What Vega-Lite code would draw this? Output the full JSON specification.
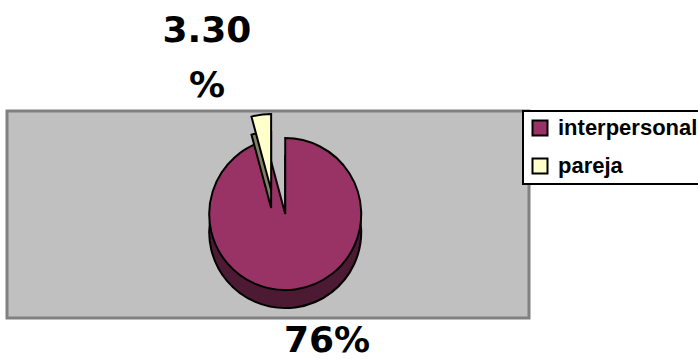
{
  "$schema": "https://vega.github.io/schema/vega-lite/v6.json",
  "width": 522,
  "height": 207,
  "autosize": {"type": "none"},
  "padding": {"left": 7, "top": 111, "right": 169, "bottom": 44},
  "background": "white",
  "config": {
    "view": {"fill": "#C0C0C0", "stroke": "#808080", "strokeWidth": 3},
    "legend": {"strokeWidth": 2}
  },
  "data": {"values": [
    {"tipo": "interpersonal", "valor": 76, "etiqueta": "76%"},
    {"tipo": "pareja", "valor": 3.3, "etiqueta": "3.30 %"}
  ]},
  "transform": [
    {"stack": "valor", "groupby": [], "sort": [{"field": "tipo", "order": "ascending"}], "offset": "normalize", "as": ["v0", "v1"]}
  ],
  "layer": [
    {
      "transform": [{"filter": "datum.tipo === 'interpersonal'"}],
      "mark": {"type": "arc", "radius": 76, "fill": "#4D1A33", "stroke": "black", "strokeWidth": 2},
      "encoding": {
        "theta": {"field": "v0", "type": "quantitative", "scale": {"domain": [0, 1]}},
        "theta2": {"field": "v1"},
        "x": {"datum": 0.533, "type": "quantitative", "scale": {"domain": [0, 1]}, "axis": null},
        "y": {"datum": 0.415, "type": "quantitative", "scale": {"domain": [0, 1]}, "axis": null}
      }
    },
    {
      "transform": [{"filter": "datum.tipo === 'interpersonal'"}],
      "mark": {"type": "arc", "radius": 76, "stroke": "black", "strokeWidth": 2, "opacity": 1},
      "encoding": {
        "theta": {"field": "v0", "type": "quantitative", "scale": {"domain": [0, 1]}},
        "theta2": {"field": "v1"},
        "x": {"datum": 0.533, "type": "quantitative", "scale": {"domain": [0, 1]}, "axis": null},
        "y": {"datum": 0.502, "type": "quantitative", "scale": {"domain": [0, 1]}, "axis": null},
        "color": {
          "field": "tipo", "type": "nominal",
          "scale": {"domain": ["interpersonal", "pareja"], "range": ["#993366", "#FFFFCC"]},
          "legend": {
            "title": null, "orient": "none", "legendX": 516, "legendY": 0, "direction": "vertical",
            "symbolType": "square", "symbolSize": 225, "symbolStrokeColor": "black", "symbolStrokeWidth": 2, "symbolOpacity": 1,
            "labelFont": "Liberation Sans, Arial, sans-serif", "labelFontSize": 22, "labelFontWeight": 700,
            "labelColor": "black", "labelOffset": 7, "labelLimit": 300, "rowPadding": 14, "padding": 6,
            "strokeColor": "black", "fillColor": "white"
          }
        }
      }
    },
    {
      "transform": [{"filter": "datum.tipo === 'pareja'"}],
      "mark": {"type": "arc", "radius": 76, "fill": "#808066", "stroke": "black", "strokeWidth": 2},
      "encoding": {
        "theta": {"field": "v0", "type": "quantitative", "scale": {"domain": [0, 1]}},
        "theta2": {"field": "v1"},
        "x": {"datum": 0.506, "type": "quantitative", "scale": {"domain": [0, 1]}, "axis": null},
        "y": {"datum": 0.531, "type": "quantitative", "scale": {"domain": [0, 1]}, "axis": null}
      }
    },
    {
      "transform": [{"filter": "datum.tipo === 'pareja'"}],
      "mark": {"type": "arc", "radius": 76, "stroke": "black", "strokeWidth": 2, "opacity": 1},
      "encoding": {
        "theta": {"field": "v0", "type": "quantitative", "scale": {"domain": [0, 1]}},
        "theta2": {"field": "v1"},
        "x": {"datum": 0.506, "type": "quantitative", "scale": {"domain": [0, 1]}, "axis": null},
        "y": {"datum": 0.618, "type": "quantitative", "scale": {"domain": [0, 1]}, "axis": null},
        "color": {"field": "tipo", "type": "nominal"}
      }
    },
    {
      "transform": [{"filter": "datum.tipo === 'pareja'"}],
      "mark": {"type": "text", "font": "DejaVu Sans", "fontSize": 36, "fontWeight": "bold", "color": "black", "align": "center", "baseline": "alphabetic", "lineBreak": " ", "lineHeight": 55},
      "encoding": {
        "text": {"field": "etiqueta"},
        "x": {"datum": 0.383, "type": "quantitative", "scale": {"domain": [0, 1]}, "axis": null},
        "y": {"datum": 1.333, "type": "quantitative", "scale": {"domain": [0, 1]}, "axis": null}
      }
    },
    {
      "transform": [{"filter": "datum.tipo === 'interpersonal'"}],
      "mark": {"type": "text", "font": "DejaVu Sans", "fontSize": 36, "fontWeight": "bold", "color": "black", "align": "center", "baseline": "alphabetic"},
      "encoding": {
        "text": {"field": "etiqueta"},
        "x": {"datum": 0.613, "type": "quantitative", "scale": {"domain": [0, 1]}, "axis": null},
        "y": {"datum": -0.164, "type": "quantitative", "scale": {"domain": [0, 1]}, "axis": null}
      }
    }
  ]
}
